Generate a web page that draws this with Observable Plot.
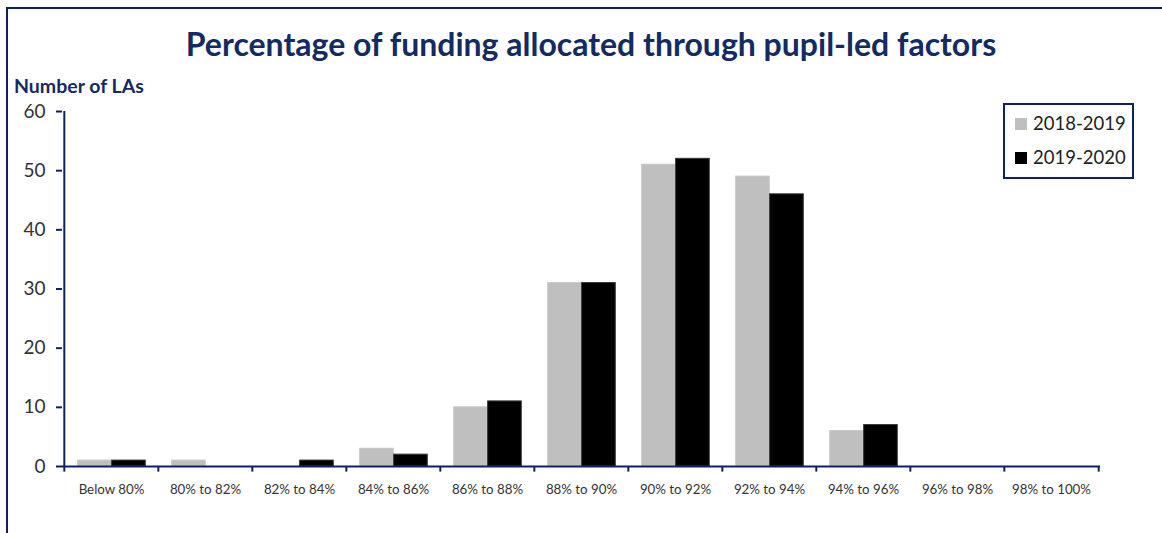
<!DOCTYPE html>
<html>
<head>
<meta charset="utf-8">
<script src="https://cdn.jsdelivr.net/npm/d3@7"></script>
<script src="https://cdn.jsdelivr.net/npm/@observablehq/plot@0.6"></script>
<style>
  html, body { margin: 0; padding: 0; background: #fff; }
  #wrap { position: relative; width: 1162px; height: 533px; overflow: hidden; font-family: Lato, "Open Sans", sans-serif; }
  #border { position: absolute; left: 6px; top: 7px; width: 1200px; height: 600px; border-left: 2px solid #0c2160; border-top: 2px solid #0c2160; }
  #title { position: absolute; left: 0; width: 1182px; top: 24px; text-align: center; font-weight: bold; font-size: 32px; color: #132a63; white-space: nowrap; }
  #ylabel { position: absolute; left: 14px; top: 74px; font-weight: bold; font-size: 19.5px; color: #132a63; white-space: nowrap; }
  #legend { position: absolute; left: 1003px; top: 103px; width: 127px; height: 72px; border: 2px solid #0c2160; background: #fff; }
  .item { position: absolute; left: 10px; font-size: 18.5px; color: #222; white-space: nowrap; }
  .sw { display: inline-block; width: 12px; height: 12px; margin-right: 6px; vertical-align: 0px; }
  #chart { position: absolute; left: 0; top: 0; }
</style>
</head>
<body>
<div id="wrap">
  <div id="chart"></div>
  <div id="border"></div>
  <div id="title">Percentage of funding allocated through pupil-led factors</div>
  <div id="ylabel">Number of LAs</div>
  <div id="legend"></div>
</div>
<script>
const categories = ["Below 80%", "80% to 82%", "82% to 84%", "84% to 86%", "86% to 88%", "88% to 90%", "90% to 92%", "92% to 94%", "94% to 96%", "96% to 98%", "98% to 100%"];
const series = ["2018-2019", "2019-2020"];
const values2018 = [1, 1, 0, 3, 10, 31, 51, 49, 6, 0, 0];
const values2019 = [1, 0, 1, 2, 11, 31, 52, 46, 7, 0, 0];
const yTicks = [0, 10, 20, 30, 40, 50, 60];
const seriesColors = ["#bfbfbf", "#000000"];
const seriesOutlines = ["#c8c8c8", "#333333"];

const navy = "#0c2160";
const W = 1162, H = 533, ML = 62, MR = 62, MT = 111, MB = 67;
const step = (W - ML - MR) / categories.length;
const gap = step * 0.145, bw = step * 0.36;

const rows = [];
categories.forEach((c, i) => {
  rows.push({category: c, series: series[0], value: values2018[i]});
  rows.push({category: c, series: series[1], value: values2019[i]});
});

const chart = Plot.plot({
  width: W, height: H,
  marginLeft: ML, marginRight: MR, marginTop: MT, marginBottom: MB,
  style: {fontFamily: "Lato, 'Open Sans', sans-serif", background: "transparent"},
  x: {domain: categories, padding: 0, label: null},
  y: {domain: [0, 60], label: null},
  color: {domain: series, range: seriesColors},
  marks: [
    Plot.barY(rows.filter(d => d.series === series[0]), {x: "category", y: "value", fill: "series", stroke: seriesOutlines[0], strokeWidth: 1, insetLeft: gap, insetRight: step - gap - bw}),
    Plot.barY(rows.filter(d => d.series === series[1]), {x: "category", y: "value", fill: "series", stroke: seriesOutlines[1], strokeWidth: 1, insetLeft: gap + bw, insetRight: step - gap - 2 * bw}),
    Plot.ruleY([0], {stroke: navy, strokeWidth: 2}),
    Plot.ruleX([categories[0]], {dx: -step / 2, y1: 0, y2: 60, stroke: navy, strokeWidth: 2}),
    Plot.ruleX(categories, {x: d => d, dx: -step / 2, y1: 0, y2: -0.95, stroke: navy, strokeWidth: 2}),
    Plot.ruleX([categories[categories.length - 1]], {dx: step / 2, y1: 0, y2: -0.95, stroke: navy, strokeWidth: 2}),
    Plot.axisY({ticks: yTicks, tickSize: 6, tickPadding: 11, stroke: navy, strokeWidth: 2, fill: "#333", fontSize: 19, label: null}),
    Plot.axisX({tickSize: 0, tickPadding: 18, fill: "#333", fontSize: 13.3, label: null})
  ]
});
document.getElementById("chart").appendChild(chart);

const legend = document.getElementById("legend");
series.forEach((s, i) => {
  const it = document.createElement("div");
  it.className = "item";
  it.style.top = (i === 0 ? 7 : 41) + "px";
  it.innerHTML = `<span class="sw" style="background:${seriesColors[i]}"></span>${s}`;
  legend.appendChild(it);
});
</script>
</body>
</html>
